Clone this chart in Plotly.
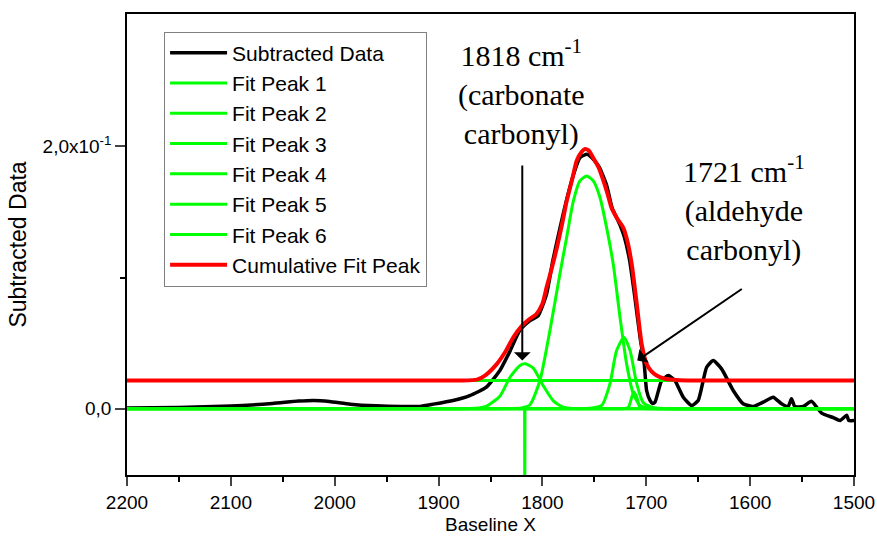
import plotly.graph_objects as go

# ---------------- data ----------------
data_x = [2200, 2150, 2100, 2060, 2035, 2020, 2005, 1985, 1960, 1937, 1918, 1905, 1886,
          1870, 1854, 1841, 1831, 1822, 1812, 1804, 1796, 1790, 1783, 1777, 1770, 1764,
          1757, 1751, 1745, 1738, 1733, 1725, 1721, 1716, 1711, 1706, 1702, 1699.7, 1696.4,
          1694, 1691.6, 1685.2, 1678.8, 1672.4, 1664.4, 1656.4, 1650, 1641.9, 1635.5,
          1627.5, 1616.3, 1606.7, 1597, 1587.4, 1577.8, 1569.8, 1563.4, 1560.2, 1557,
          1549, 1541, 1536, 1531.2, 1520, 1513.4, 1507, 1505, 1500]
data_y = [0.0005, 0.001, 0.002, 0.004, 0.0058, 0.0063, 0.0055, 0.0035, 0.0022, 0.0017, 0.0018,
          0.0035, 0.0063, 0.0100, 0.0164, 0.0291, 0.0443, 0.0595, 0.0671, 0.0710, 0.0874,
          0.1128, 0.1381, 0.1584, 0.1787, 0.1913, 0.1939, 0.1901, 0.1837, 0.1698, 0.1533,
          0.1394, 0.1305, 0.1128, 0.0849, 0.0545, 0.0342, 0.0139, 0.0063, 0.0040, 0.0050,
          0.0215, 0.0253, 0.0215, 0.0088, 0.0025, 0.0063, 0.0316, 0.0367, 0.0304, 0.0139,
          0.0038, 0.0017, 0.0050, 0.0088, 0.0038, 0.0017, 0.0076, 0.0017, 0.0017, 0.0058,
          0.0012, -0.0033, -0.0068, -0.0089, -0.0050, -0.0090, -0.0090]

peak1_x = [2200, 1900, 1870, 1860, 1853.8, 1841, 1831.2, 1821.6, 1816.5, 1808.8, 1799.2, 1789.5, 1780, 1770, 1740, 1500]
peak1_y = [0, 0, 0.0002, 0.0008, 0.0020, 0.0095, 0.0240, 0.0330, 0.0342, 0.0310, 0.0175, 0.0060, 0.0012, 0.0002, 0, 0]

peak2_x = [2200, 1860, 1830, 1820, 1812, 1802.4, 1792.8, 1783.2, 1776.7, 1770.3, 1763.9, 1757.4,
           1751, 1744.6, 1738.2, 1731.8, 1725.3, 1718.9, 1712.5, 1706, 1697, 1670, 1500]
peak2_y = [0, 0, 0.0002, 0.0006, 0.0030, 0.0215, 0.0595, 0.1027, 0.1305, 0.1580, 0.1736, 0.1774,
           0.1736, 0.1610, 0.1380, 0.1100, 0.0697, 0.0340, 0.0114, 0.0025, 0.0004, 0, 0]

peak3_x = [2200, 1780, 1755, 1743, 1735, 1728.6, 1721.5, 1715.6, 1709.2, 1702.8, 1696, 1690, 1680, 1500]
peak3_y = [0, 0, 0.0003, 0.0025, 0.0190, 0.0443, 0.0545, 0.0443, 0.0190, 0.0045, 0.0015, 0.0005, 0, 0]

peak4_x = [2200, 1740, 1722, 1717.3, 1714, 1711.8, 1709.2, 1706, 1700, 1680, 1500]
peak4_y = [0, 0, 0, 0.0010, 0.0088, 0.0127, 0.0088, 0.0010, 0, 0, 0]

peak5_x = [2200, 1500]
peak5_y = [0.0215, 0.0215]

peak6_x = [2200, 1817.2, 1817.0, 1816.8, 1500]
peak6_y = [0, 0, -0.08, 0, 0]

cum_x = [2200, 1880, 1863, 1855, 1844, 1836, 1828, 1820, 1813, 1806, 1800, 1796, 1791, 1786,
         1781, 1776.7, 1771, 1767, 1762, 1759, 1755, 1751, 1746, 1741.4, 1737, 1733.4, 1728,
         1722.2, 1718, 1714, 1709.2, 1704.4, 1699.6, 1695, 1690, 1682, 1674, 1660, 1500]
cum_y = [0.0215, 0.0215, 0.0222, 0.0255, 0.0340, 0.0430, 0.0545, 0.0630, 0.0680, 0.0720, 0.0800,
         0.0925, 0.1070, 0.1230, 0.1410, 0.1580, 0.1760, 0.1890, 0.1960, 0.1980, 0.1965, 0.1910,
         0.1840, 0.1740, 0.1630, 0.1530, 0.1450, 0.1380, 0.1270, 0.1100, 0.0800, 0.0490, 0.0340,
         0.0285, 0.0253, 0.0228, 0.0220, 0.0215, 0.0215]

x_ticks = [2200, 2100, 2000, 1900, 1800, 1700, 1600, 1500]
y_ticks = [0, 0.2]
y_ticktext = ["0,0", "2,0x10<sup>-1</sup>"]

GREEN = "#00ff00"
RED = "#ff0000"

fig = go.Figure()
fig.add_trace(go.Scatter(x=data_x, y=data_y, mode="lines", name="Subtracted Data",
                         line=dict(color="black", width=3.5, shape="spline", smoothing=0.5)))
peaks = [(peak1_x, peak1_y), (peak2_x, peak2_y), (peak3_x, peak3_y),
         (peak4_x, peak4_y), (peak5_x, peak5_y), (peak6_x, peak6_y)]
for i, (px, py) in enumerate(peaks):
    shape = "linear" if i >= 4 else "spline"
    fig.add_trace(go.Scatter(x=px, y=py, mode="lines", name=f"Fit Peak {i+1}",
                             line=dict(color=GREEN, width=3, shape=shape, smoothing=0.6)))
fig.add_trace(go.Scatter(x=cum_x, y=cum_y, mode="lines", name="Cumulative Fit Peak",
                         line=dict(color=RED, width=4, shape="spline", smoothing=0.6)))

SANS = "Arial, Liberation Sans, sans-serif"
SERIF = "Times New Roman, Liberation Serif, serif"

fig.update_layout(
    width=877, height=541,
    margin=dict(l=127, r=23, t=14, b=66),
    paper_bgcolor="white", plot_bgcolor="white",
    font=dict(family=SANS, color="black"),
    showlegend=True,
    legend=dict(x=0.051, y=0.962, xanchor="left", yanchor="top",
                bgcolor="white", bordercolor="#808080", borderwidth=1,
                font=dict(family=SANS, size=21, color="black"),
                itemwidth=57, tracegroupgap=0),
    xaxis=dict(range=[2200, 1500], tickvals=x_ticks, ticks="outside", ticklen=9, tickwidth=1.5,
               showline=True, linecolor="black", linewidth=1.5, mirror=True,
               showgrid=False, zeroline=False, automargin=False,
               tickfont=dict(family=SANS, size=19),
               minor=dict(tickvals=[2150, 2050, 1950, 1850, 1750, 1650, 1550], ticks="outside",
                          ticklen=5, tickwidth=1.5, tickcolor="black"),
               title=dict(text="Baseline X", font=dict(family=SANS, size=19), standoff=6)),
    yaxis=dict(range=[-0.0505, 0.3008], tickvals=y_ticks, ticktext=y_ticktext,
               ticks="outside", ticklen=10, tickwidth=1.5,
               showline=True, linecolor="black", linewidth=1.5, mirror=True,
               showgrid=False, zeroline=False, automargin=False,
               tickfont=dict(family=SANS, size=19),
               minor=dict(tickvals=[0.1], ticks="outside", ticklen=5, tickwidth=1.5, tickcolor="black"),
               title=dict(text="Subtracted Data", font=dict(family=SANS, size=23), standoff=10)),
)

fig.add_annotation(x=1820.6, y=0.2413, xref="x", yref="y", showarrow=False,
                   text="1818 cm<sup>-1</sup><br>(carbonate<br>carbonyl)",
                   font=dict(family=SERIF, size=30, color="black"), align="center")
fig.add_annotation(x=1605.9, y=0.1529, xref="x", yref="y", showarrow=False,
                   text="1721 cm<sup>-1</sup><br>(aldehyde<br>carbonyl)",
                   font=dict(family=SERIF, size=30, color="black"), align="center")
# arrows
fig.add_annotation(x=1819.4, y=0.0367, ax=1819.4, ay=0.1865, xref="x", yref="y",
                   axref="x", ayref="y", text="", showarrow=True, arrowhead=1,
                   arrowsize=1.4, arrowwidth=2, arrowcolor="black", standoff=0)
fig.add_annotation(x=1708.7, y=0.0367, ax=1606.6, ay=0.092, xref="x", yref="y",
                   axref="x", ayref="y", text="", showarrow=True, arrowhead=1,
                   arrowsize=1.4, arrowwidth=2, arrowcolor="black", standoff=0)

fig.write_html("out.html")
